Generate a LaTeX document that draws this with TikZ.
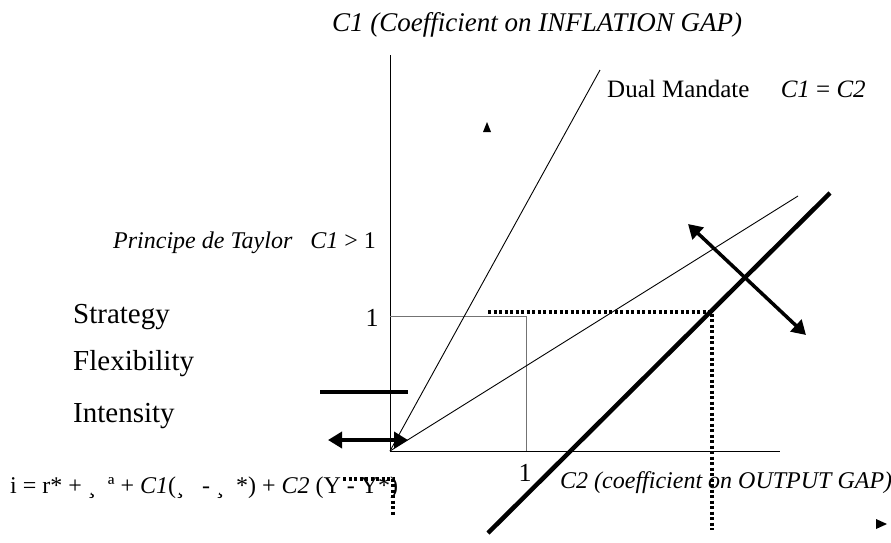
\documentclass[tikz,border=0pt]{standalone}
\usepackage{fontspec}
\setmainfont{Liberation Serif}
\usetikzlibrary{arrows.meta}

\begin{document}
\begin{tikzpicture}[x=1pt,y=-1pt,
  axisline/.style={line width=1pt},
  rayline/.style={line width=0.9pt},
  unitline/.style={line width=1pt,black!55},
  dotline/.style={line width=3.5pt,dash pattern=on 3pt off 2.5pt},
  boldline/.style={line width=4.5pt},
  bigarrow/.style={line width=3.5pt,
    {Triangle[length=14pt,width=16pt]}-{Triangle[length=14pt,width=16pt]}},
  txt/.style={inner sep=0pt,anchor=base west},
  legendtxt/.style={txt,font=\fontsize{29}{33}\selectfont},
  marktri/.style={fill=black}]
  \useasboundingbox (0,0) rectangle (891,542);
  % axes
  \coordinate (O) at (390,451);
  \coordinate (ytop) at (390,55);
  \coordinate (xend) at (780,451);
  \draw[axisline] (ytop) -- (O) -- (xend);
  \node[inner sep=0pt,anchor=base,font=\fontsize{27}{30}\selectfont\itshape] (ytitle) at (537,31) {C1 (Coefficient on INFLATION GAP)};
  \node[txt,font=\fontsize{24}{28}\selectfont\itshape] (xtitle) at (560,488) {C2 (coefficient on OUTPUT GAP)};
  % unit square
  \coordinate (u1) at (390,316);
  \coordinate (u2) at (526,316);
  \coordinate (u3) at (526,451);
  \draw[unitline] (u1) -- (u2) -- (u3);
  \node[font=\fontsize{26}{30}\selectfont] (yone) at (372,318) {1};
  \node[font=\fontsize{26}{30}\selectfont] (xone) at (525,473) {1};
  % rays from the origin
  \coordinate (steep) at (600,70);
  \coordinate (flat) at (798,196);
  \draw[rayline] (O) -- (steep);
  \draw[rayline] (O) -- (flat);
  \node[txt,font=\fontsize{25}{28}\selectfont] (dual) at (607,97) {Dual Mandate\quad\ \textit{C1} = \textit{C2}};
  \node[txt,font=\fontsize{24}{28}\selectfont] (taylor) at (113,248) {\textit{Principe de Taylor}\ \ \ \textit{C1} > 1};
  % rule line and its shift
  \coordinate (r1) at (488,533);
  \coordinate (r2) at (830,193);
  \draw[boldline] (r1) -- (r2);
  \coordinate (d1) at (488,312);
  \coordinate (d2) at (712,312);
  \coordinate (d3) at (712,530);
  \draw[dotline] (d1) -- (d2) -- (d3);
  \coordinate (s1) at (688,224);
  \coordinate (s2) at (806,335);
  \draw[bigarrow] (s1) -- (s2);
  % legend
  \node[legendtxt] (strategy) at (73,323) {Strategy};
  \node[legendtxt] (flex) at (73,370) {Flexibility};
  \node[legendtxt] (intens) at (73,422) {Intensity};
  \coordinate (b1) at (320,392);
  \coordinate (b2) at (408,392);
  \draw[boldline] (b1) -- (b2);
  \coordinate (a1) at (328,440);
  \coordinate (a2) at (408,440);
  \draw[bigarrow] (a1) -- (a2);
  % rule
  \node[txt,font=\fontsize{24}{28}\selectfont] (rule) at (10,493) {i = r* + ¸\ \ ª + \textit{C1}(¸\ \ \ - ¸\ \ *) + \textit{C2} (Y - Y*)};
  \coordinate (e1) at (343,479);
  \coordinate (e2) at (393,479);
  \coordinate (e3) at (393,515);
  \draw[dotline] (e1) -- (e2) -- (e3);
  % stray markers
  \fill[marktri] (483,132) -- (491,132) -- (487,122) -- cycle;
  \fill[marktri] (876,519) -- (876,529) -- (887,524) -- cycle;
\end{tikzpicture}
\end{document}
